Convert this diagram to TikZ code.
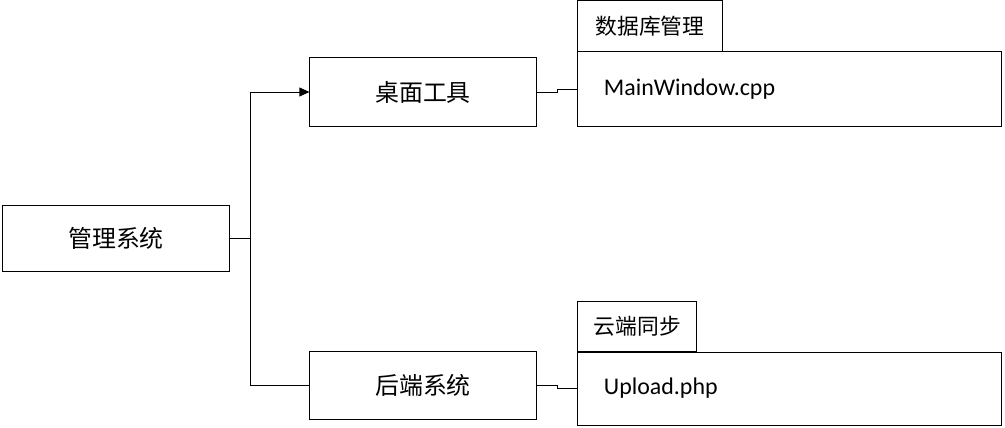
\documentclass[tikz,border=0pt]{standalone}
\usepackage{fontspec}
\setmainfont{Carlito}
\newfontfamily\cjk{Noto Sans CJK SC}
\usetikzlibrary{arrows.meta}

\begin{document}
\begin{tikzpicture}[
		x=0.025cm, y=-0.025cm,
		line width=0.7pt,
		>={Triangle[length=0.25cm,width=0.22cm]},
		sysbox/.style={draw,inner sep=0pt,minimum width=5.65cm,minimum height=1.7cm,font=\cjk\fontsize{17}{20}\selectfont},
		tabbox/.style={draw,anchor=south west,inner sep=0pt,minimum height=1.25cm,font=\cjk\fontsize{15.5}{18}\selectfont},
		filebox/.style={draw,inner xsep=0.65cm,inner ysep=0pt,text width=9.275cm,align=left,font=\fontsize{17}{20}\selectfont}
	]
		\useasboundingbox (0,0) rectangle (1005,427);

		% Systems
		\node[sysbox,minimum height=1.65cm] (mgmt) at (116,238) {管理系统};
		\node[sysbox] (desk) at (423,92) {桌面工具};
		\node[sysbox] (backend) at (423,385) {后端系统};

		% Files
		\node[filebox,minimum height=1.85cm] (mainwin) at (789.5,89) {MainWindow.cpp};
		\node[tabbox,minimum width=3.6cm] (dbtab) at (mainwin.north west) {数据库管理};
		\node[filebox,minimum height=1.825cm] (upload) at (789.5,388.5) {Upload.php};
		\node[tabbox,minimum width=2.975cm] (synctab) at (upload.north west) {云端同步};

		% Connectors
		\draw (mgmt.east) -- ++(21,0) coordinate (fork);
		\draw[->] (fork) |- (desk.west);
		\draw (fork) |- (backend.west);
		\draw (desk.east) -- ++(21,0) |- (mainwin.west);
		\draw (backend.east) -- ++(21,0) |- (upload.west);
	\end{tikzpicture}
\end{document}
